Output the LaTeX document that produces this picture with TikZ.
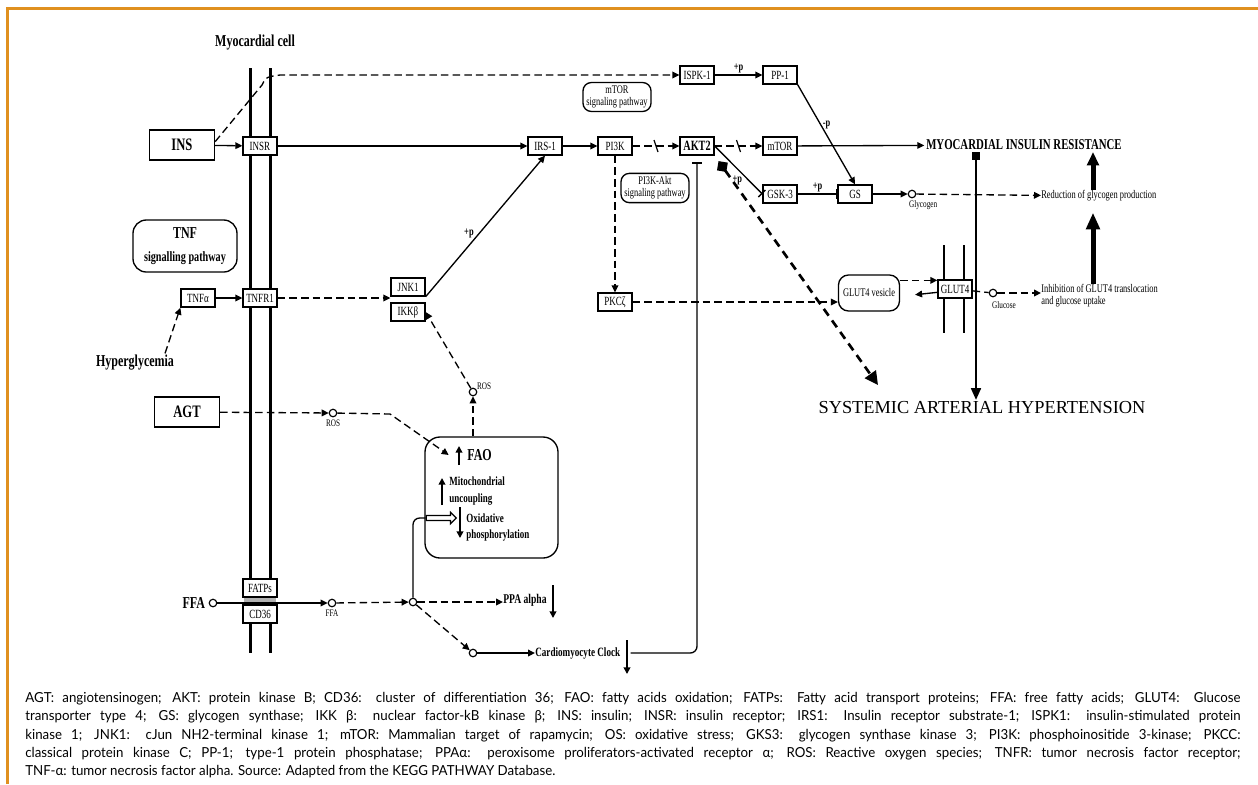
\documentclass[tikz,border=0pt]{standalone}
\usepackage{fontspec}
\setmainfont{Liberation Serif}[FakeStretch=0.72]
\newfontfamily\hyperfont{Liberation Serif}
\setsansfont{Lato}[FakeStretch=0.96]
\usepackage{tikz}
\usetikzlibrary{arrows.meta,positioning,shapes.geometric,shapes.arrows,calc}
\definecolor{frameorange}{HTML}{E0901F}
\newcommand\setfs[2]{\fontsize{#1}{#2}\selectfont}
\tikzset{
  protein/.style={draw=black,line width=.8pt,fill=white,minimum width=20.4pt,minimum height=10.8pt,inner sep=.8pt,font=\setfs{7.5}{8}},
  bigbox/.style={draw=black,line width=.8pt,fill=white,minimum width=39pt,minimum height=18pt,inner sep=1pt,font=\setfs{10.5}{12}\bfseries},
  pathway/.style={draw=black,line width=.8pt,rounded corners=5pt,align=center,inner sep=2pt,font=\setfs{7}{7.2}},
  cpd/.style={circle,draw=black,line width=.7pt,fill=white,minimum size=4.5pt,inner sep=0pt},
  flow/.style={-{Triangle[length=4.2pt,width=4pt]},line width=.8pt},
  dflow/.style={flow,dash pattern=on 4.5pt off 2.5pt},
  dline/.style={line width=.8pt,dash pattern=on 4.5pt off 2.5pt},
  inhibit/.style={-{Bar[width=6pt]},line width=.8pt},
  membrane/.style={line width=1.8pt},
  level/.style={-{Triangle[length=4pt,width=4pt]},line width=1.5pt},
  fat/.style={-{Triangle[length=10pt,width=8pt]},line width=3pt},
  ptm/.style={font=\setfs{7}{7}\bfseries,inner sep=1pt},
  lbl/.style={font=\setfs{6}{6},inner sep=.5pt},
  note/.style={font=\setfs{7}{7.2},align=left,inner sep=0pt},
}

\begin{document}
\begin{tikzpicture}[x=0.6pt,y=-0.6pt]
	\useasboundingbox (0,0) rectangle (1258,784);
	\draw[frameorange,line width=1.8pt] (7,784) -- (7,8) -- (1258,8);

	% cell membrane
	\draw[membrane] (250,68) -- (250,653);
	\draw[membrane] (270,68) -- (270,653);
	\node[font=\setfs{10}{11}\bfseries] (cell) at (255,43) {Myocardial cell};
	\node[protein] (insr) at (260,146) {INSR};
	\node[protein] (tnfr) at (260,298) {TNFR1};
	\fill[gray!60] (244,597) rectangle (276,605);
	\node[protein] (fatp) at (260,588) {FATPs};
	\node[protein] (cd36) at (260,614) {CD36};

	% outside the cell
	\node[bigbox] (ins) at (182,145) {INS};
	\node[pathway,minimum width=62.4pt,minimum height=31.2pt,rounded corners=8pt,font=\setfs{8.5}{14}\bfseries] (tnfpath) at (185,246) {{\setfs{10}{14}TNF}\\signalling pathway};
	\node[protein] (tnfa) at (198,298) {TNFα};
	\node[font=\setfs{10}{11}\bfseries,inner sep=1pt] (hyper) at (135,363) {Hyperglycemia};
	\node[bigbox] (agt) at (187,412) {AGT};
	\node[font=\setfs{10}{11}\bfseries,inner sep=1pt,anchor=east] (ffa) at (207,603) {FFA};
	\node[cpd] (ffain) at (213,603) {};

	% insulin signalling
	\node[protein] (ispk) at (697,75) {ISPK-1};
	\node[protein] (pp1) at (780,75) {PP-1};
	\node[pathway] (mtorpath) at (617,97) {mTOR\\signaling pathway};
	\node[protein] (irs) at (545,146) {IRS-1};
	\node[protein] (pi3k) at (615,146) {PI3K};
	\node[protein,font=\setfs{8.5}{9}\bfseries] (akt) at (697,146) {AKT2};
	\node[protein] (mtor) at (780,146) {mTOR};
	\node[pathway] (aktpath) at (655,188) {PI3K-Akt\\signaling pathway};
	\node[protein] (gsk) at (780,194) {GSK-3};
	\node[protein] (gs) at (855,194) {GS};
	\node[protein] (pkc) at (615,302) {PKCζ};
	\node[protein] (jnk) at (408,287) {JNK1};
	\node[protein] (ikk) at (408,312) {IKKβ};

	% ROS and FAO
	\node[cpd] (ros1) at (473,392) {};
	\node[lbl,anchor=south west] (ros1lbl) at (476,391) {ROS};
	\node[cpd] (ros2) at (333,413) {};
	\node[lbl,below=1pt of ros2] (ros2lbl) {ROS};
	\node[draw,line width=.8pt,rounded corners=9pt,minimum width=79.8pt,minimum height=72.6pt] (faobox) at (491.5,497.5) {};
	\node[font=\setfs{10}{11}\bfseries,inner sep=0pt,anchor=west] (faotxt) at (467,455) {FAO};
	\node[note,font=\setfs{7.5}{10}\bfseries,anchor=west] (uncoup) at (449,491) {Mitochondrial\\uncoupling};
	\node[note,font=\setfs{7.5}{9.6}\bfseries,anchor=west] (oxphos) at (466,528) {Oxidative\\phosphorylation};
	\draw[level] (459,465) -- (459,446);
	\draw[level] (442,505) -- (442,478);
	\draw[level] (460,507) -- (460,538);
	\node[single arrow,draw,line width=.7pt,fill=white,minimum height=18pt,minimum width=7pt,single arrow head extend=1.5pt,inner sep=.8pt] (hollow) at (440,518) {};

	% fatty acids
	\node[cpd] (ffa2) at (332,603) {};
	\node[lbl,below=1pt of ffa2] (ffa2lbl) {FFA};
	\node[cpd] (hub) at (413,602) {};
	\node[cpd] (clockin) at (473,653) {};
	\node[note,font=\setfs{8}{9}\bfseries,anchor=west] (ppa) at (503,600) {PPA alpha};
	\draw[level] (553,585) -- (553,618);
	\node[note,font=\setfs{7.6}{9}\bfseries,anchor=west] (clock) at (535,653) {Cardiomyocyte Clock};
	\draw[level] (627,640) -- (627,674);

	% outcomes
	\node[font=\setfs{9}{10}\bfseries,inner sep=1pt] (mir) at (1024,145) {MYOCARDIAL INSULIN RESISTANCE};
	\node[font=\hyperfont\setfs{11}{12},inner sep=1pt] (sah) at (982,408) {SYSTEMIC ARTERIAL HYPERTENSION};
	\node[cpd] (glyc) at (912,194) {};
	\node[lbl,anchor=north west] (glyclbl) at (908,199) {Glycogen};
	\node[note,anchor=west] (reduct) at (1041,196) {Reduction of glycogen production};
	\node[pathway,minimum width=36.6pt,minimum height=21.6pt,rounded corners=6pt] (ves) at (869,293) {GLUT4 vesicle};
	\draw[line width=1.2pt] (944,245) -- (944,333) (964,245) -- (964,333);
	\node[protein] (glut) at (955,289) {GLUT4};
	\node[cpd] (glc) at (993,293) {};
	\node[lbl,anchor=north] (glclbl) at (1004,300) {Glucose};
	\node[note,anchor=west] (inhib) at (1041,296) {Inhibition of GLUT4 translocation\\and glucose uptake};
	\coordinate (col) at (1093,0);
	\coordinate (sahcol) at (976,0);
	\coordinate (hyptip) at (878,385);

	% connectors
	\draw[flow] (ins) -- (insr);
	\draw[dflow] ([yshift=2pt]ins.east) -- (262,85) .. controls (266,77) .. (280,75) -- (ispk);
	\draw[flow] (ispk) -- node[above,ptm]{+p} (pp1);
	\draw[flow] (pp1.south east) -- node[pos=.4,right,ptm]{-p} (gs.north);
	\draw[flow] (insr) -- (irs);
	\draw[flow] (irs) -- (pi3k);
	\draw[dflow] (pi3k) -- coordinate[midway] (cut1) (akt);
	\draw[line width=.7pt] (cut1) ++(-2,-6) -- ++(4,12);
	\draw[dflow] (akt) -- coordinate[midway] (cut2) (mtor);
	\draw[line width=.7pt] (cut2) ++(-2,-6) -- ++(4,12);
	\draw[flow] (mtor) -- (mir);
	\draw[inhibit] (akt.east) -- node[pos=.6,below left=-1pt,ptm]{+p} (gsk.west);
	\draw[inhibit] (gsk) -- node[above,ptm]{+p} (gs);
	\draw[flow] (gs) -- (glyc);
	\draw[dflow] (glyc) -- (reduct);
	\draw[fat,-{Triangle[length=8pt,width=7pt]}] (reduct.north -| col) -- (mir.south -| col);
	\draw[fat] (inhib.north -| col) -- ($(reduct.south -| col)+(0,11)$);
	\draw[{Square[length=5pt,width=5pt]}-{Triangle[length=7pt,width=6pt]},line width=1pt] (mir.south -| sahcol) -- (sah.north -| sahcol);
	\draw[line width=1.6pt,dash pattern=on 5pt off 3.5pt,{Diamond[length=8pt,width=8pt]}-{Triangle[length=8pt,width=8pt]},shorten <=4pt] (akt.south east) -- (hyptip);
	\draw[inhibit,rounded corners=4pt] ([xshift=6pt]clock.east) -| ([yshift=-4pt]akt.south);
	\draw[dflow] (pi3k) -- (pkc);
	\draw[dflow] (pkc) -- (pkc -| ves.west);
	\draw[dflow] ($(ves.north east)+(0,6)$) -- ($(ves.north east -| glut.west)+(0,6)$);
	\draw[flow,shorten >=9pt] ([yshift=-2pt]glut.west) -- ([yshift=-2pt]ves.east);
	\draw[dline] (glut) -- (glc);
	\draw[dflow] (glc) -- (glc -| inhib.west);
	\draw[flow] (tnfa) -- (tnfr);
	\draw[dflow] ([xshift=18pt]hyper.north) -- (tnfa.south west);
	\draw[dflow] (tnfr) -- (tnfr -| jnk.west);
	\draw[flow] (jnk.south east) -- node[pos=.45,left=2pt,ptm]{+p} (irs.south);
	\draw[dflow] (ros1) -- (ikk.east);
	\draw[dflow] (faobox.north -| ros1) -- (ros1);
	\draw[dflow] (agt) -- (ros2);
	\draw[dflow] (ros2) -- (390,414) -- ([xshift=-11pt]faotxt.west);
	\draw[flow] (ffain) -- (ffa2);
	\draw[dflow] (ffa2) -- (hub);
	\draw[dflow] (hub) -- (hub -| ppa.west);
	\draw[dflow] (hub) -- (clockin);
	\draw[flow] (clockin) -- (clock.west);
	\draw[line width=.8pt,rounded corners=4pt] (hub) |- (hollow.west);

	% legend
	\node[anchor=north west,inner sep=0pt,align=left,font=\sffamily\setfs{8.3}{11}] (legend) at (25,692) {%
		\makebox[729pt][s]{AGT: angiotensinogen; AKT: protein kinase B; CD36: cluster of differentiation 36; FAO: fatty acids oxidation; FATPs: Fatty acid transport proteins; FFA: free fatty acids; GLUT4: Glucose}\\
		\makebox[729pt][s]{transporter type 4; GS: glycogen synthase; IKK β: nuclear factor-kB kinase β; INS: insulin; INSR: insulin receptor; IRS1: Insulin receptor substrate-1; ISPK1: insulin-stimulated protein}\\
		\makebox[729pt][s]{kinase 1; JNK1: cJun NH2-terminal kinase 1; mTOR: Mammalian target of rapamycin; OS: oxidative stress; GKS3: glycogen synthase kinase 3; PI3K: phosphoinositide 3-kinase; PKCC:}\\
		\makebox[729pt][s]{classical protein kinase C; PP-1; type-1 protein phosphatase; PPAα: peroxisome proliferators-activated receptor α; ROS: Reactive oxygen species; TNFR: tumor necrosis factor receptor;}\\
		TNF-α: tumor necrosis factor alpha. Source: Adapted from the KEGG PATHWAY Database.};
\end{tikzpicture}
\end{document}
